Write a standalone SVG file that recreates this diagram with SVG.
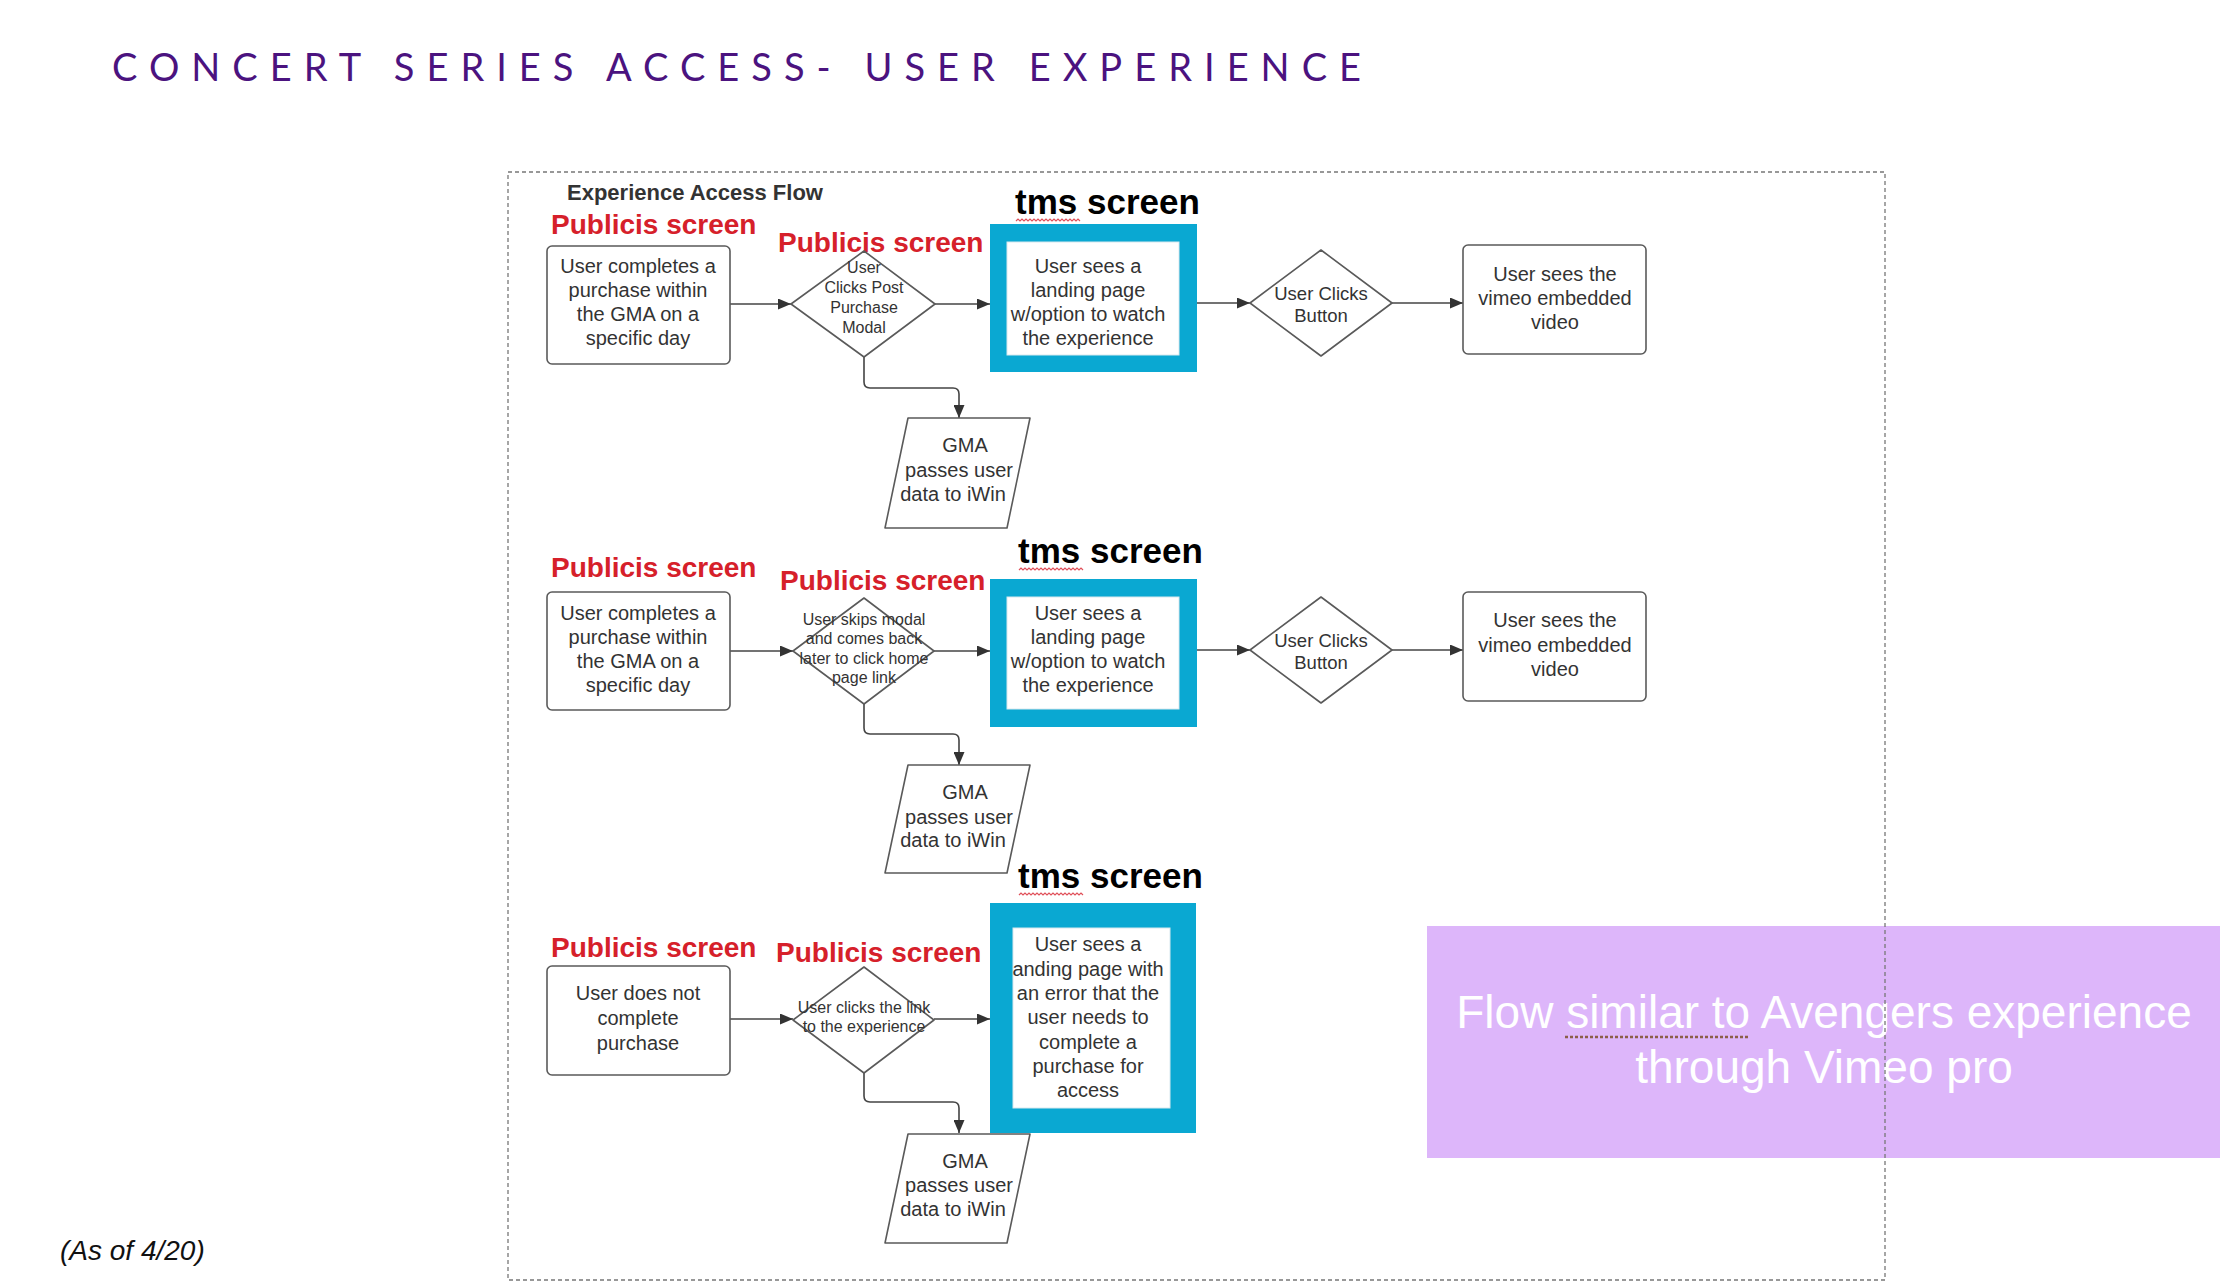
<svg xmlns="http://www.w3.org/2000/svg" width="2227" height="1282" viewBox="0 0 2227 1282">
<defs>
<style>
.t{font-family:"Liberation Sans",Arial,sans-serif;fill:#333;font-size:20px;text-anchor:middle}
.ts{font-size:16px}
.tb{font-size:18.5px}
.node{fill:#fff;stroke:#5a5a5a;stroke-width:1.6;stroke-linejoin:round}
.blue{fill:#0AA8D2}
.inner{fill:#fff;stroke:#d8e8ee;stroke-width:1}
.red{font-family:"Liberation Sans",Arial,sans-serif;font-weight:bold;fill:#D6202A;font-size:28px}
.tms{font-family:"Liberation Sans",Arial,sans-serif;font-weight:bold;fill:#000;font-size:35px}
.conn{fill:none;stroke:#444;stroke-width:1.6}
.wavy{fill:none;stroke:#E0505A;stroke-width:1.2}
</style>
<marker id="arr" markerUnits="userSpaceOnUse" markerWidth="13" markerHeight="11" viewBox="0 0 13 11" refX="13" refY="5.5" orient="auto">
<path d="M0,0 L13,5.5 L0,11 z" fill="#333"/>
</marker>
</defs>
<rect width="2227" height="1282" fill="#fff"/>

<text x="112" y="81" font-family="Lato,'Liberation Sans',sans-serif" font-size="38" fill="#4B137F" textLength="1258" lengthAdjust="spacing" letter-spacing="9">CONCERT SERIES ACCESS- USER EXPERIENCE</text>

<g id="callout">
<rect x="1427" y="926" width="793" height="232" fill="#DDB6FA"/>
<text class="t" x="1824" y="1028" style="font-size:46px;fill:#fff">Flow similar to Avengers experience</text>
<text class="t" x="1824" y="1083" style="font-size:46px;fill:#fff">through Vimeo pro</text>
<line x1="1565" y1="1037" x2="1748" y2="1037" stroke="#8B5E48" stroke-width="2.5" stroke-dasharray="3 2"/>
</g>

<rect id="frame" x="508" y="172" width="1377" height="1108" fill="none" stroke="#777" stroke-width="1.3" stroke-dasharray="4 3"/>

<text x="567" y="200" font-family="'Liberation Sans',Arial,sans-serif" font-weight="bold" font-size="22" fill="#333">Experience Access Flow</text>

<g id="labels">
<text class="red" x="551" y="234">Publicis screen</text>
<text class="red" x="778" y="252">Publicis screen</text>
<text class="tms" x="1015" y="214">tms screen</text>
<text class="red" x="551" y="577">Publicis screen</text>
<text class="red" x="780" y="590">Publicis screen</text>
<text class="tms" x="1018" y="563">tms screen</text>
<text class="red" x="551" y="957">Publicis screen</text>
<text class="red" x="776" y="962">Publicis screen</text>
<text class="tms" x="1018" y="888">tms screen</text>
<path class="wavy" d="M1016,221 l2,-2 l2,2 l2,-2 l2,2 l2,-2 l2,2 l2,-2 l2,2 l2,-2 l2,2 l2,-2 l2,2 l2,-2 l2,2 l2,-2 l2,2 l2,-2 l2,2 l2,-2 l2,2 l2,-2 l2,2 l2,-2 l2,2 l2,-2 l2,2 l2,-2 l2,2 l2,-2 l2,2 l2,-2 l2,2"/>
<path class="wavy" d="M1019,570 l2,-2 l2,2 l2,-2 l2,2 l2,-2 l2,2 l2,-2 l2,2 l2,-2 l2,2 l2,-2 l2,2 l2,-2 l2,2 l2,-2 l2,2 l2,-2 l2,2 l2,-2 l2,2 l2,-2 l2,2 l2,-2 l2,2 l2,-2 l2,2 l2,-2 l2,2 l2,-2 l2,2 l2,-2 l2,2"/>
<path class="wavy" d="M1019,895 l2,-2 l2,2 l2,-2 l2,2 l2,-2 l2,2 l2,-2 l2,2 l2,-2 l2,2 l2,-2 l2,2 l2,-2 l2,2 l2,-2 l2,2 l2,-2 l2,2 l2,-2 l2,2 l2,-2 l2,2 l2,-2 l2,2 l2,-2 l2,2 l2,-2 l2,2 l2,-2 l2,2 l2,-2 l2,2"/>
</g>

<g id="connectors">
<path class="conn" marker-end="url(#arr)" d="M730,304 H791"/>
<path class="conn" marker-end="url(#arr)" d="M935,304 H990"/>
<path class="conn" marker-end="url(#arr)" d="M1197,303 H1250"/>
<path class="conn" marker-end="url(#arr)" d="M1392,303 H1463"/>
<path class="conn" marker-end="url(#arr)" d="M864,357 V382 Q864,388 870,388 H953 Q959,388 959,394 V418"/>
<path class="conn" marker-end="url(#arr)" d="M730,651 H793"/>
<path class="conn" marker-end="url(#arr)" d="M934,651 H990"/>
<path class="conn" marker-end="url(#arr)" d="M1197,650 H1250"/>
<path class="conn" marker-end="url(#arr)" d="M1392,650 H1463"/>
<path class="conn" marker-end="url(#arr)" d="M864,704 V728 Q864,734 870,734 H953 Q959,734 959,740 V765"/>
<path class="conn" marker-end="url(#arr)" d="M730,1019 H793"/>
<path class="conn" marker-end="url(#arr)" d="M934,1019 H990"/>
<path class="conn" marker-end="url(#arr)" d="M864,1073 V1096 Q864,1102 870,1102 H953 Q959,1102 959,1108 V1133"/>
</g>

<g id="r1-start">
<rect class="node" x="547" y="246" width="183" height="118" rx="5"/>
<text class="t" x="638" y="273">User completes a</text>
<text class="t" x="638" y="297">purchase within</text>
<text class="t" x="638" y="321">the GMA on a</text>
<text class="t" x="638" y="345">specific day</text>
</g>
<g id="r1-decision">
<polygon class="node" points="791,304 864,251 935,304 864,357"/>
<text class="t ts" x="864" y="273">User</text>
<text class="t ts" x="864" y="293">Clicks Post</text>
<text class="t ts" x="864" y="313">Purchase</text>
<text class="t ts" x="864" y="333">Modal</text>
</g>
<g id="r1-landing">
<rect class="blue" x="990" y="224" width="207" height="148"/>
<rect class="inner" x="1007" y="242" width="172" height="113"/>
<text class="t" x="1088" y="273">User sees a</text>
<text class="t" x="1088" y="297">landing page</text>
<text class="t" x="1088" y="321">w/option to watch</text>
<text class="t" x="1088" y="345">the experience</text>
</g>
<g id="r1-click">
<polygon class="node" points="1250,303 1321,250 1392,303 1321,356"/>
<text class="t tb" x="1321" y="300">User Clicks</text>
<text class="t tb" x="1321" y="322">Button</text>
</g>
<g id="r1-video">
<rect class="node" x="1463" y="245" width="183" height="109" rx="5"/>
<text class="t" x="1555" y="281">User sees the</text>
<text class="t" x="1555" y="305">vimeo embedded</text>
<text class="t" x="1555" y="329">video</text>
</g>
<g id="r1-gma">
<path class="node" d="M908,418 H1030 L1007,528 H885 Z"/>
<text class="t" x="965" y="452">GMA</text>
<text class="t" x="959" y="477">passes user</text>
<text class="t" x="953" y="501">data to iWin</text>
</g>

<g id="r2-start">
<rect class="node" x="547" y="592" width="183" height="118" rx="5"/>
<text class="t" x="638" y="620">User completes a</text>
<text class="t" x="638" y="644">purchase within</text>
<text class="t" x="638" y="668">the GMA on a</text>
<text class="t" x="638" y="692">specific day</text>
</g>
<g id="r2-decision">
<polygon class="node" points="793,651 864,598 934,651 864,704"/>
<text class="t ts" x="864" y="625">User skips modal</text>
<text class="t ts" x="864" y="644">and comes back</text>
<text class="t ts" x="864" y="664">later to click home</text>
<text class="t ts" x="864" y="683">page link</text>
</g>
<g id="r2-landing">
<rect class="blue" x="990" y="579" width="207" height="148"/>
<rect class="inner" x="1007" y="597" width="172" height="112"/>
<text class="t" x="1088" y="620">User sees a</text>
<text class="t" x="1088" y="644">landing page</text>
<text class="t" x="1088" y="668">w/option to watch</text>
<text class="t" x="1088" y="692">the experience</text>
</g>
<g id="r2-click">
<polygon class="node" points="1250,650 1321,597 1392,650 1321,703"/>
<text class="t tb" x="1321" y="647">User Clicks</text>
<text class="t tb" x="1321" y="669">Button</text>
</g>
<g id="r2-video">
<rect class="node" x="1463" y="592" width="183" height="109" rx="5"/>
<text class="t" x="1555" y="627">User sees the</text>
<text class="t" x="1555" y="652">vimeo embedded</text>
<text class="t" x="1555" y="676">video</text>
</g>
<g id="r2-gma">
<path class="node" d="M908,765 H1030 L1007,873 H885 Z"/>
<text class="t" x="965" y="799">GMA</text>
<text class="t" x="959" y="824">passes user</text>
<text class="t" x="953" y="847">data to iWin</text>
</g>

<g id="r3-start">
<rect class="node" x="547" y="966" width="183" height="109" rx="5"/>
<text class="t" x="638" y="1000">User does not</text>
<text class="t" x="638" y="1025">complete</text>
<text class="t" x="638" y="1050">purchase</text>
</g>
<g id="r3-decision">
<polygon class="node" points="793,1020 864,967 934,1020 864,1073"/>
<text class="t ts" x="864" y="1013">User clicks the link</text>
<text class="t ts" x="864" y="1032">to the experience</text>
</g>
<g id="r3-error">
<rect class="blue" x="990" y="903" width="206" height="230"/>
<rect class="inner" x="1013" y="928" width="157" height="180"/>
<text class="t" x="1088" y="951">User sees a</text>
<text class="t" x="1088" y="976">anding page with</text>
<text class="t" x="1088" y="1000">an error that the</text>
<text class="t" x="1088" y="1024">user needs to</text>
<text class="t" x="1088" y="1049">complete a</text>
<text class="t" x="1088" y="1073">purchase for</text>
<text class="t" x="1088" y="1097">access</text>
</g>
<g id="r3-gma">
<path class="node" d="M908,1134 H1030 L1007,1243 H885 Z"/>
<text class="t" x="965" y="1168">GMA</text>
<text class="t" x="959" y="1192">passes user</text>
<text class="t" x="953" y="1216">data to iWin</text>
</g>

<text x="60" y="1260" font-family="'Liberation Sans',Arial,sans-serif" font-style="italic" font-size="28" fill="#111">(As of 4/20)</text>
</svg>
